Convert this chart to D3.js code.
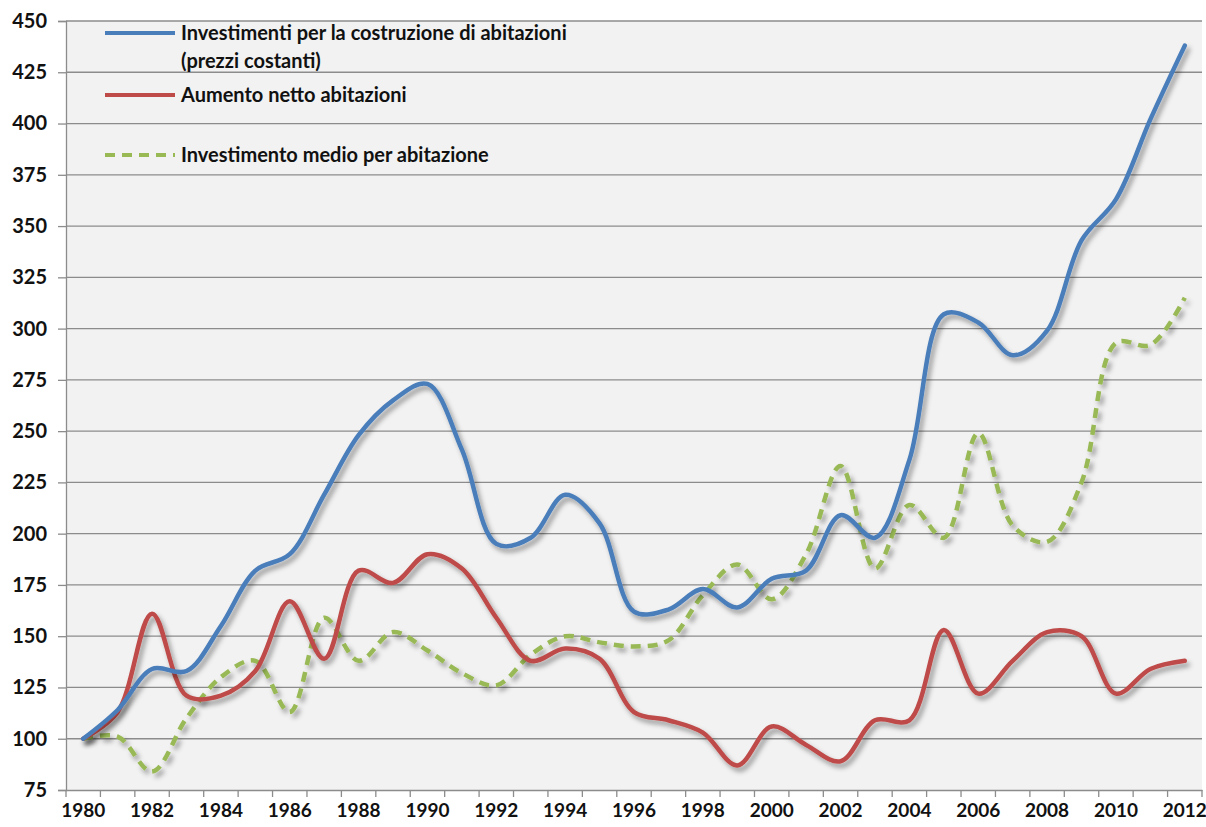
<!DOCTYPE html>
<meta charset="utf-8">
<style>
body {
  margin: 0;
  background: #fff;
}
text {
  font-family: Lato, "Liberation Sans", sans-serif;
  font-weight: bold;
  fill: #111;
}
</style>
<body>
<script src="https://cdn.jsdelivr.net/npm/d3@7"></script>
<script>
var years = d3.range(1980, 2013);
var yTicks = [75, 100, 125, 150, 175, 200, 225, 250, 275, 300, 325, 350, 375, 400, 425, 450];

// Investimenti per la costruzione di abitazioni (prezzi costanti)
var investimenti = [100, 114, 134, 133, 155, 182, 190, 219, 248, 265, 273, 241, 195, 198, 219, 205,
  162, 163, 173, 164, 178, 182, 209, 198, 236, 307, 303, 287, 299, 343, 363, 402, 438];
// Aumento netto abitazioni
var aumento = [100, 113, 161, 121, 121, 133, 167, 139, 182, 176, 190, 183, 159, 138, 144, 139,
  113, 109, 103, 87, 106, 97, 89, 109, 109, 153, 122, 138, 152, 150, 122, 134, 138];
// Investimento medio per abitazione
var medio = [100, 101, 84, 110, 130, 138, 113, 159, 138, 152, 143, 132, 126, 141, 150, 147,
  145, 148, 170, 185, 168, 190, 233, 183, 214, 198, 249, 204, 196, 225, 293, 292, 315];

var series = [
  {name: ["Investimenti per la costruzione di abitazioni", "(prezzi costanti)"], values: investimenti, color: "#4a7ebb", dash: null, ly: 33},
  {name: ["Aumento netto abitazioni"], values: aumento, color: "#be4b48", dash: null, ly: 95},
  {name: ["Investimento medio per abitazione"], values: medio, color: "#98b954", dash: "10,7", ly: 155}
];

var width = 1206, height = 827;
var margin = {left: 66, right: 4, top: 21, bottom: 37};

var svg = d3.select("body").append("svg")
  .attr("width", width).attr("height", height);

var defs = svg.append("defs");
var f = defs.append("filter").attr("id", "shadow")
  .attr("x", "-10%").attr("y", "-10%").attr("width", "120%").attr("height", "120%");
f.append("feDropShadow").attr("dx", 3).attr("dy", 4).attr("stdDeviation", 2.5)
  .attr("flood-color", "#000").attr("flood-opacity", 0.38);

var x = d3.scaleBand().domain(years).range([margin.left, width - margin.right]);
var y = d3.scaleLinear().domain([75, 450]).range([height - margin.bottom, margin.top]);

// plot background
svg.append("rect")
  .attr("x", margin.left).attr("y", margin.top)
  .attr("width", width - margin.right - margin.left)
  .attr("height", height - margin.bottom - margin.top)
  .style("fill", "#f2f2f2");

// gridlines
svg.append("g").selectAll("line").data(yTicks.slice(1)).enter().append("line")
  .attr("x1", margin.left).attr("x2", width - margin.right)
  .attr("y1", function(d) { return y(d); }).attr("y2", function(d) { return y(d); })
  .style("stroke", "#8c8c8c").style("stroke-width", 1.3);

// y axis
var yAxis = svg.append("g")
  .attr("transform", "translate(" + margin.left + ",0)")
  .call(d3.axisLeft(y).tickValues(yTicks).tickSize(8).tickPadding(11));
yAxis.selectAll("text").style("font-size", "20px");

// x axis, ticks between categories
var xAxis = svg.append("g")
  .attr("transform", "translate(0," + (height - margin.bottom) + ")")
  .call(d3.axisBottom(x).tickValues(years.filter(function(d) { return d % 2 == 0; })).tickSize(0).tickPadding(14));
xAxis.selectAll("text").style("font-size", "19px");
xAxis.selectAll(".tick line").remove();
xAxis.append("g").selectAll("line").data(years.concat([2013])).enter().append("line")
  .attr("x1", function(d, i) { return margin.left + i * x.step(); })
  .attr("x2", function(d, i) { return margin.left + i * x.step(); })
  .attr("y1", 0).attr("y2", 7)
  .style("stroke", "#8c8c8c").style("stroke-width", 1.3);

svg.selectAll(".domain").style("stroke", "#8c8c8c").style("stroke-width", 1.3);
yAxis.selectAll(".tick line").style("stroke", "#8c8c8c").style("stroke-width", 1.3);

var line = d3.line()
  .x(function(d, i) { return x(years[i]) + x.bandwidth() / 2; })
  .y(function(d) { return y(d); })
  .curve(d3.curveCatmullRom.alpha(0.5));

// draw in reverse so blue sits on top
series.slice().reverse().forEach(function(s) {
  svg.append("path")
    .datum(s.values)
    .attr("d", line)
    .attr("filter", "url(#shadow)")
    .style("fill", "none")
    .style("stroke", s.color)
    .style("stroke-width", 4.5)
    .style("stroke-linecap", s.dash ? "butt" : "round")
    .style("stroke-dasharray", s.dash);
});

// legend
var legend = svg.append("g");
series.forEach(function(s) {
  legend.append("line")
    .attr("x1", 105).attr("x2", 175)
    .attr("y1", s.ly).attr("y2", s.ly)
    .style("stroke", s.color).style("stroke-width", 4)
    .style("stroke-dasharray", s.dash);
  s.name.forEach(function(t, i) {
    legend.append("text")
      .attr("x", 181).attr("y", s.ly + i * 28)
      .attr("dy", "0.35em")
      .style("font-size", "20px")
      .text(t);
  });
});
</script>
